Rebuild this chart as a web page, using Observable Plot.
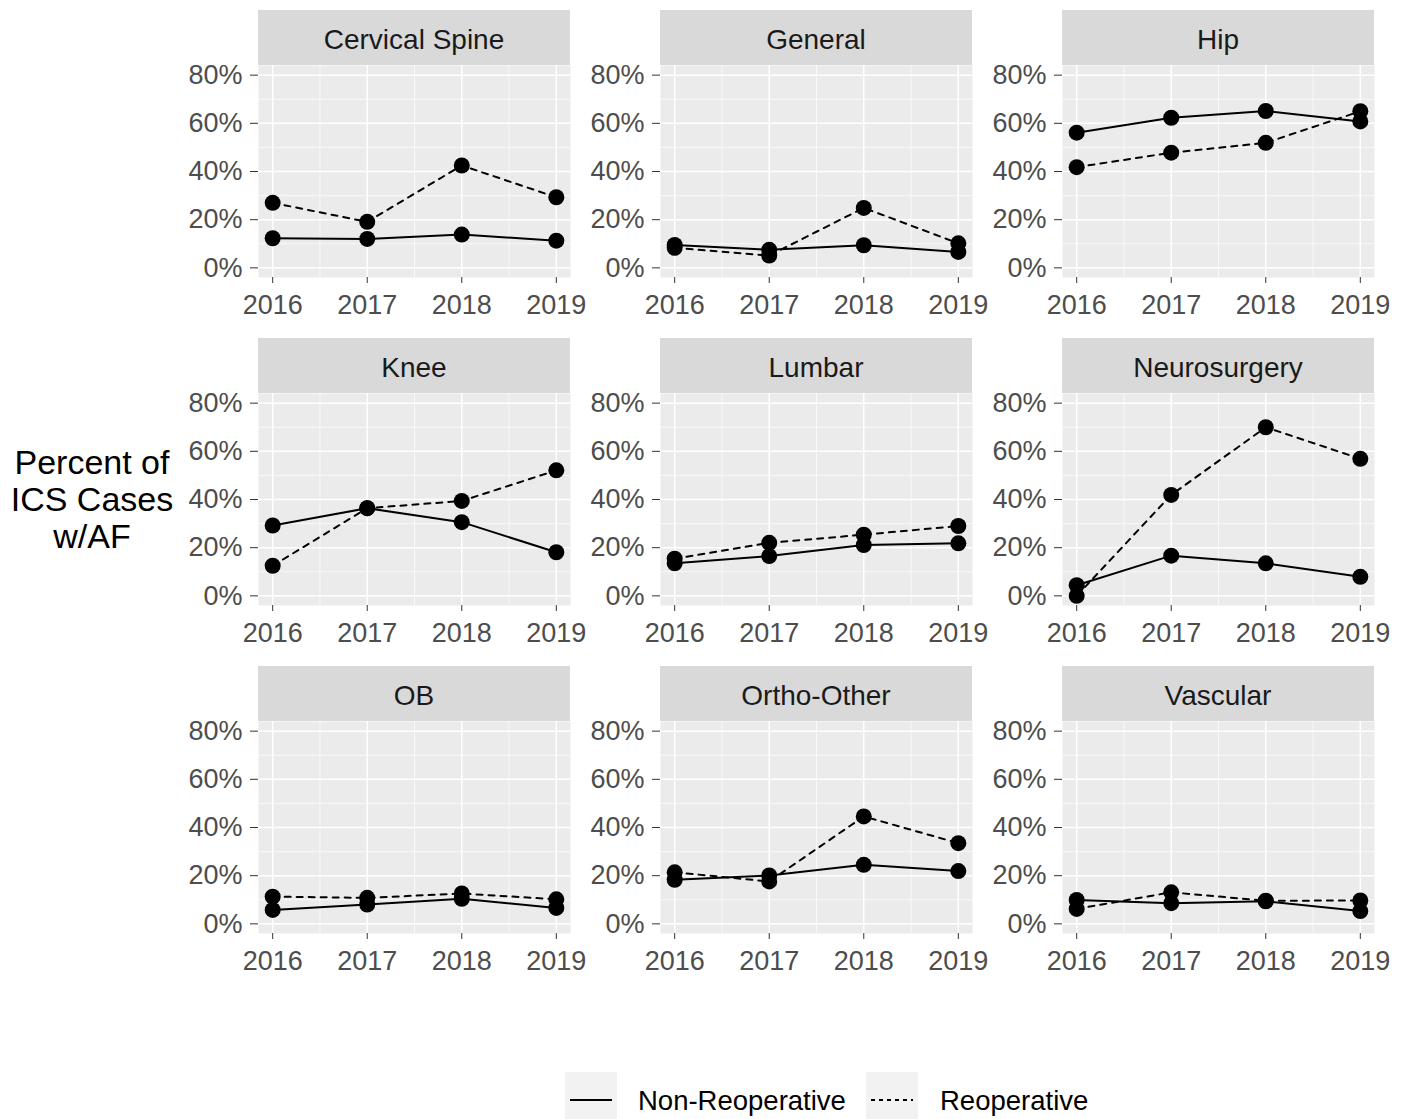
<!DOCTYPE html>
<html>
<head>
<meta charset="utf-8">
<script src="https://cdn.jsdelivr.net/npm/d3@7"></script>
<script src="https://cdn.jsdelivr.net/npm/@observablehq/plot@0.6"></script>
<style>
  html, body { margin: 0; padding: 0; background: #fff; }
  #root { position: relative; width: 1408px; height: 1119px; overflow: hidden; font-family: "Liberation Sans", Arial, sans-serif; }
  .cell { position: absolute; width: 420px; }
  .strip { margin-left: 90px; width: 312px; height: 55px; background: #D9D9D9; color: #1A1A1A; font-size: 28px; line-height: 60px; text-align: center; overflow: hidden; }
  .cell svg { display: block; overflow: visible; background: transparent; }
  #ytitle { position: absolute; left: 0; width: 184px; top: 444px; text-align: center; font-size: 34px; line-height: 37px; color: #000; }
  .lkey { position: absolute; top: 1072px; width: 52px; height: 47px; background: #F2F2F2; }
  .ltext { position: absolute; top: 1083px; font-size: 27.5px; line-height: 36px; color: #000; }
</style>
</head>
<body>
<div id="root">
  <div id="ytitle">Percent of<br>ICS Cases<br>w/AF</div>
</div>
<script>
// ---- data ----
const panels = ["Cervical Spine", "General", "Hip", "Knee", "Lumbar", "Neurosurgery", "OB", "Ortho-Other", "Vascular"];
const years = [2016, 2017, 2018, 2019];
const seriesNames = ["Non-Reoperative", "Reoperative"];
const nonReop = [
  [12.3, 12.0, 13.8, 11.3],
  [9.5, 7.5, 9.4, 6.6],
  [56.1, 62.3, 65.1, 60.8],
  [29.2, 36.4, 30.6, 18.1],
  [13.5, 16.5, 21.1, 21.8],
  [4.4, 16.7, 13.5, 7.9],
  [5.8, 8.0, 10.4, 6.6],
  [18.3, 20.1, 24.5, 21.9],
  [9.9, 8.6, 9.4, 5.3]
];
const reop = [
  [27.0, 19.1, 42.5, 29.3],
  [8.3, 5.1, 24.9, 10.2],
  [41.8, 47.8, 51.9, 65.0],
  [12.5, 36.4, 39.4, 52.1],
  [15.4, 22.0, 25.4, 29.0],
  [0.0, 41.9, 70.0, 56.9],
  [11.3, 10.8, 12.6, 10.2],
  [21.4, 17.6, 44.6, 33.5],
  [6.2, 13.1, 9.6, 9.7]
];
const yTicks = [0, 20, 40, 60, 80];
const yMinor = [10, 30, 50, 70];
const xMinor = [2016.5, 2017.5, 2018.5];

const rows = panels.flatMap((p, i) => years.flatMap((yr, j) => [
  {panel: p, year: yr, type: seriesNames[0], value: nonReop[i][j]},
  {panel: p, year: yr, type: seriesNames[1], value: reop[i][j]}
]));

const root = document.getElementById("root");

panels.forEach((p, i) => {
  const col = i % 3, row = Math.floor(i / 3);
  const cell = document.createElement("div");
  cell.className = "cell";
  cell.style.left = (168 + col * 402) + "px";
  cell.style.top = (10 + row * 328) + "px";
  const strip = document.createElement("div");
  strip.className = "strip";
  strip.textContent = p;
  cell.appendChild(strip);

  const d = rows.filter(r => r.panel === p);
  const chart = Plot.plot({
    width: 420,
    height: 272,
    marginLeft: 90,
    marginRight: 18,
    marginTop: 0,
    marginBottom: 60,
    style: {background: "transparent", overflow: "visible", fontFamily: "'Liberation Sans', Arial, sans-serif", fontSize: "27px"},
    x: {domain: [2015.85, 2019.15]},
    y: {domain: [-4, 84]},
    marks: [
      Plot.frame({fill: "#EBEBEB", stroke: null}),
      Plot.gridX(xMinor, {stroke: "#fff", strokeOpacity: 1, strokeWidth: 0.7}),
      Plot.gridY(yMinor, {stroke: "#fff", strokeOpacity: 1, strokeWidth: 0.7}),
      Plot.gridX(years, {stroke: "#fff", strokeOpacity: 1, strokeWidth: 1.5}),
      Plot.gridY(yTicks, {stroke: "#fff", strokeOpacity: 1, strokeWidth: 1.5}),
      Plot.axisX(years, {tickSize: 6, tickPadding: 11, stroke: "#333", fill: "#4D4D4D", tickFormat: d => String(d), label: null, fontSize: 27}),
      Plot.axisY(yTicks, {tickSize: 8, tickPadding: 8, stroke: "#333", fill: "#4D4D4D", tickFormat: d => d + "%", label: null, fontSize: 27}),
      Plot.line(d.filter(r => r.type === seriesNames[0]), {x: "year", y: "value", stroke: "#000", strokeWidth: 2}),
      Plot.line(d.filter(r => r.type === seriesNames[1]), {x: "year", y: "value", stroke: "#000", strokeWidth: 2, strokeDasharray: "6,6"}),
      Plot.dot(d, {x: "year", y: "value", r: 8, fill: "#000", stroke: null})
    ]
  });
  cell.appendChild(chart);
  root.appendChild(cell);
});

// ---- legend ----
const legendItems = [
  {name: seriesNames[0], keyLeft: 565, textLeft: 638, dash: null},
  {name: seriesNames[1], keyLeft: 866, textLeft: 940, dash: "4,4"}
];
legendItems.forEach(it => {
  const k = document.createElement("div");
  k.className = "lkey";
  k.style.left = it.keyLeft + "px";
  k.innerHTML = `<svg width="52" height="47"><line x1="5" x2="47" y1="28" y2="28" stroke="#000" stroke-width="2" ${it.dash ? `stroke-dasharray="${it.dash}"` : ""}/></svg>`;
  root.appendChild(k);
  const t = document.createElement("div");
  t.className = "ltext";
  t.style.left = it.textLeft + "px";
  t.textContent = it.name;
  root.appendChild(t);
});
</script>
</body>
</html>
